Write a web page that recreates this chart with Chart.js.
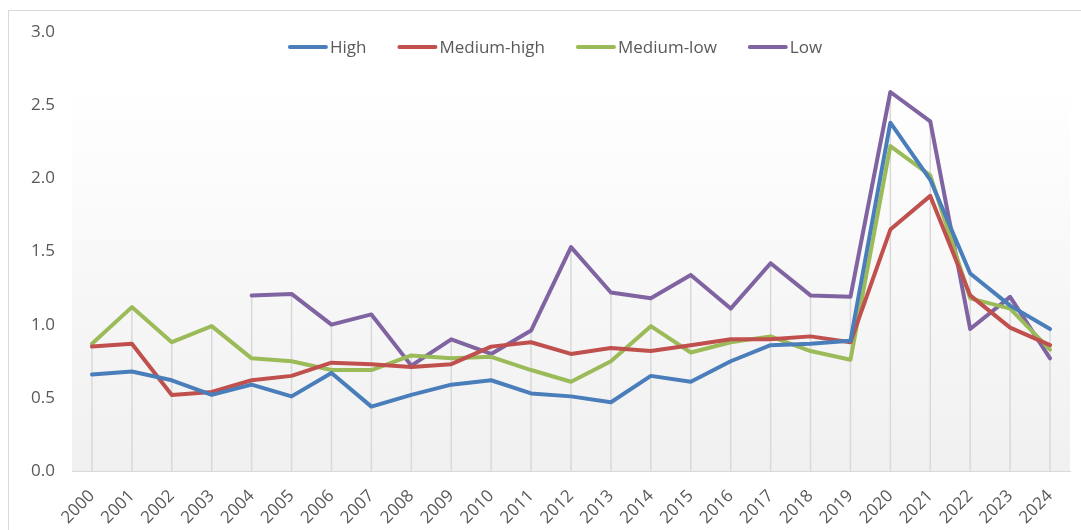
<!DOCTYPE html>
<html>
<head>
<meta charset="utf-8">
<script src="https://cdn.jsdelivr.net/npm/chart.js@4"></script>
<style>
  html, body { margin: 0; padding: 0; background: #ffffff; }
  #wrap { position: relative; width: 1081px; height: 530px; }
</style>
</head>
<body>
<div id="wrap"><canvas id="chart" width="1081" height="530"></canvas></div>
<script>
// data
const years = ['2000', '2001', '2002', '2003', '2004', '2005', '2006', '2007', '2008', '2009', '2010', '2011', '2012',
               '2013', '2014', '2015', '2016', '2017', '2018', '2019', '2020', '2021', '2022', '2023', '2024'];
const high = [0.66, 0.68, 0.62, 0.52, 0.59, 0.51, 0.67, 0.44, 0.52, 0.59, 0.62, 0.53, 0.51,
              0.47, 0.65, 0.61, 0.75, 0.86, 0.87, 0.89, 2.38, 1.99, 1.35, 1.13, 0.97];
const mediumHigh = [0.85, 0.87, 0.52, 0.54, 0.62, 0.65, 0.74, 0.73, 0.71, 0.73, 0.85, 0.88, 0.80,
                    0.84, 0.82, 0.86, 0.90, 0.90, 0.92, 0.88, 1.65, 1.88, 1.20, 0.98, 0.86];
const mediumLow = [0.87, 1.12, 0.88, 0.99, 0.77, 0.75, 0.69, 0.69, 0.79, 0.77, 0.78, 0.69, 0.61,
                   0.75, 0.99, 0.81, 0.88, 0.92, 0.82, 0.76, 2.22, 2.02, 1.18, 1.11, 0.83];
const low = [null, null, null, null, 1.20, 1.21, 1.00, 1.07, 0.72, 0.90, 0.80, 0.96, 1.53,
             1.22, 1.18, 1.34, 1.11, 1.42, 1.20, 1.19, 2.59, 2.39, 0.97, 1.19, 0.77];
const seriesNames = ['High', 'Medium-high', 'Medium-low', 'Low'];
const seriesColors = ['#4a7ebb', '#c0504d', '#9bbb59', '#8064a2'];

const textColor = '#595959';
const fontFamily = '"Open Sans", "Noto Sans", sans-serif';

// frame + plot background
const backgroundPlugin = {
    id: 'background',
    beforeDraw(chart) {
        const ctx = chart.ctx;
        const area = chart.chartArea;
        ctx.save();
        ctx.strokeStyle = '#d9d9d9';
        ctx.lineWidth = 1;
        ctx.strokeRect(8.5, 10.5, 2000, 2000);
        const grad = ctx.createLinearGradient(0, area.top + 50, 0, area.bottom);
        grad.addColorStop(0, '#ffffff');
        grad.addColorStop(1, '#f0f0f0');
        ctx.fillStyle = grad;
        ctx.fillRect(area.left, area.top + 50, area.right - area.left, area.bottom - area.top - 50);
        ctx.restore();
    }
};

// drop lines: from highest point of each year down to the axis
const dropLinesPlugin = {
    id: 'dropLines',
    beforeDatasetsDraw(chart) {
        const ctx = chart.ctx;
        const x = chart.scales.x;
        const y = chart.scales.y;
        ctx.save();
        ctx.strokeStyle = '#d9d9d9';
        ctx.lineWidth = 1.5;
        years.forEach((yr, i) => {
            let top = null;
            chart.data.datasets.forEach(ds => {
                const v = ds.data[i];
                if (v !== null && (top === null || v > top)) top = v;
            });
            if (top === null) return;
            const px = x.getPixelForValue(i);
            ctx.beginPath();
            ctx.moveTo(px, y.getPixelForValue(top));
            ctx.lineTo(px, y.getPixelForValue(0));
            ctx.stroke();
        });
        ctx.restore();
    }
};

// legend drawn inside the plot like the original
const legendPlugin = {
    id: 'insideLegend',
    afterDraw(chart) {
        const ctx = chart.ctx;
        ctx.save();
        ctx.font = '17px ' + fontFamily;
        ctx.textBaseline = 'middle';
        const lineLen = 40, gapText = 2, gapItem = 31;
        const items = chart.data.datasets.map(ds => ({
            label: ds.label, color: ds.borderColor, w: ctx.measureText(ds.label).width
        }));
        let total = 0;
        items.forEach((it, i) => { total += lineLen + gapText + it.w + (i < items.length - 1 ? gapItem : 0); });
        let x = 555 - total / 2;
        const yc = 47;
        items.forEach(it => {
            ctx.strokeStyle = it.color;
            ctx.lineWidth = 4;
            ctx.lineCap = 'round';
            ctx.beginPath();
            ctx.moveTo(x + 2, yc);
            ctx.lineTo(x + lineLen - 2, yc);
            ctx.stroke();
            ctx.fillStyle = textColor;
            ctx.fillText(it.label, x + lineLen + gapText, yc + 1);
            x += lineLen + gapText + it.w + gapItem;
        });
        ctx.restore();
    }
};

const seriesData = [high, mediumHigh, mediumLow, low];

new Chart(document.getElementById('chart'), {
    type: 'line',
    data: {
        labels: years,
        datasets: seriesData.map((d, i) => ({
            label: seriesNames[i],
            data: d,
            borderColor: seriesColors[i],
            backgroundColor: seriesColors[i],
            borderWidth: 4,
            borderJoinStyle: 'round',
            borderCapStyle: 'round',
            pointRadius: 0,
            tension: 0,
            spanGaps: false
        }))
    },
    options: {
        responsive: false,
        animation: false,
        layout: { padding: { left: 0, right: 11, top: 32, bottom: 0 } },
        plugins: {
            legend: { display: false },
            tooltip: { enabled: false }
        },
        scales: {
            x: {
                offset: true,
                grid: { display: false, drawTicks: false },
                border: { display: true, color: '#d9d9d9', width: 1 },
                ticks: {
                    color: textColor,
                    font: { family: fontFamily, size: 17 },
                    maxRotation: 45,
                    minRotation: 45,
                    autoSkip: false,
                    padding: 15
                },
                afterFit(scale) { scale.height = 59; }
            },
            y: {
                min: 0,
                max: 3,
                grid: { display: false, drawTicks: false },
                border: { display: false },
                ticks: {
                    stepSize: 0.5,
                    color: textColor,
                    font: { family: fontFamily, size: 17 },
                    padding: 17,
                    callback: v => v.toFixed(1)
                },
                afterFit(scale) { scale.width = 72; }
            }
        }
    },
    plugins: [backgroundPlugin, dropLinesPlugin, legendPlugin]
});
</script>
</body>
</html>
